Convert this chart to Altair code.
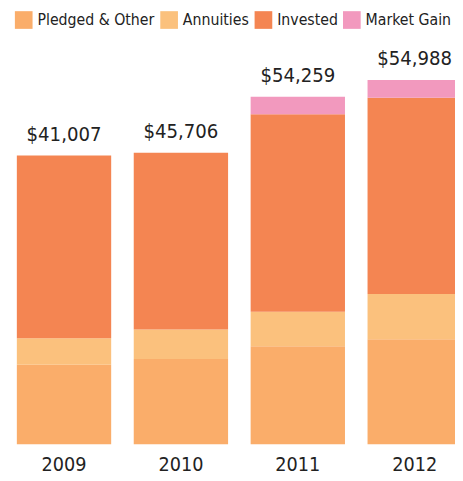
import altair as alt
import pandas as pd

years = ["2009", "2010", "2011", "2012"]
categories = ["Pledged & Other", "Annuities", "Invested", "Market Gain"]
colors = ["#FAAD6A", "#FBC17D", "#F48552", "#F299BE"]
pledged = [12150, 13050, 15000, 16050]
annuities = [4050, 4500, 5250, 6900]
invested = [27900, 27000, 30150, 30000]
market_gain = [0, 0, 2700, 2700]
total_labels = ["$41,007", "$45,706", "$54,259", "$54,988"]

FONT = "DejaVu Sans Condensed, Liberation Sans Narrow, Roboto Condensed, Arial Narrow, sans-serif"

rows = []
series = [pledged, annuities, invested, market_gain]
for i, y in enumerate(years):
    for k, cat in enumerate(categories):
        rows.append({"year": y, "category": cat, "order": k, "value": series[k][i]})
df = pd.DataFrame(rows)

tot = pd.DataFrame({
    "year": years,
    "total": [sum(s[i] for s in series) for i in range(len(years))],
    "label": total_labels,
})

xscale = alt.Scale(domain=years, range=[9, 462], paddingInner=0.193, paddingOuter=0)
yscale = alt.Scale(domain=[0, 60000], nice=False)

bars = alt.Chart(df).mark_bar(clip=True).encode(
    x=alt.X("year:N", scale=xscale, sort=years,
            axis=alt.Axis(title=None, domain=False, ticks=False, labelAngle=0,
                          labelFont=FONT, labelFontSize=20, labelColor="#222222",
                          labelPadding=11, grid=False)),
    y=alt.Y("value:Q", stack="zero", scale=yscale, axis=None),
    color=alt.Color("category:N", scale=alt.Scale(domain=categories, range=colors),
                    legend=alt.Legend(title=None, orient="none", direction="horizontal",
                                      legendX=7, legendY=-41, symbolType="square",
                                      symbolSize=324, symbolStrokeWidth=0, symbolOpacity=1,
                                      labelFont=FONT, labelFontSize=16, labelColor="#222222",
                                      labelLimit=300, labelOffset=5, columnPadding=5, padding=0)),
    order=alt.Order("order:Q"),
)

labels = alt.Chart(tot).mark_text(font=FONT, fontSize=20.5, color="#222222",
                                  baseline="bottom", dy=-11).encode(
    x=alt.X("year:N", scale=xscale, sort=years),
    y=alt.Y("total:Q", scale=yscale),
    text="label:N",
)

chart = alt.layer(bars, labels).properties(
    width=455, height=400,
    autosize=alt.AutoSizeParams(type="none"),
    padding={"top": 40, "left": 0, "right": 0, "bottom": 33},
).configure_view(stroke=None)

chart.save("out.html", embed_options={"renderer": "svg", "actions": False})
